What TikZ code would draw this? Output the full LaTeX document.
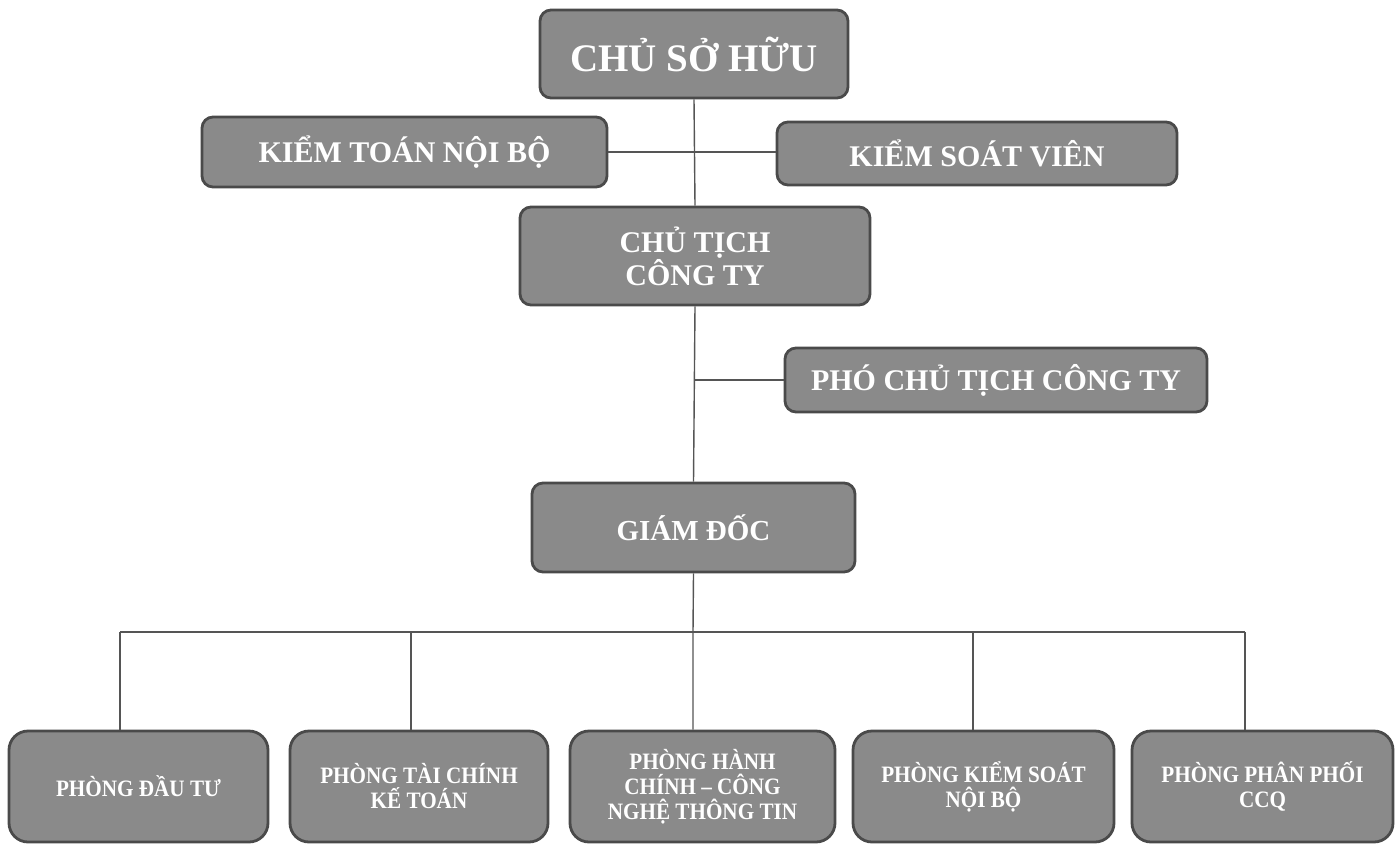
\documentclass[tikz,border=0pt]{standalone}
\usepackage{fontspec}
\setmainfont{Liberation Serif}
\newfontfamily\narrowserif[FakeStretch=0.9,Ligatures=TeX]{Liberation Serif}
\usepackage{tikz}
\usetikzlibrary{positioning,calc}
\definecolor{boxfill}{HTML}{8A8A8A}
\definecolor{boxedge}{HTML}{4A4A4A}
\definecolor{linkgray}{HTML}{555555}

\begin{document}
\begin{tikzpicture}[%
  x=1pt,y=-1pt,
  unit/.style={rectangle,draw=boxedge,fill=boxfill,line width=2.8pt,
    rounded corners=11pt,text=white,align=center,inner sep=0pt},
  head/.style={unit,font=\fontsize{39}{44}\selectfont\bfseries},
  board/.style={unit,font=\fontsize{30}{27}\selectfont\bfseries},
  dept/.style={unit,rounded corners=19pt,minimum height=111pt,
    font=\narrowserif\fontsize{23.5}{25}\selectfont\bfseries},
  link/.style={draw=linkgray,line width=1.4pt}]
    \useasboundingbox (0,0) rectangle (1400,844);
    % Top levels
    \node[head,minimum width=308pt,minimum height=88pt] (owner) at (694,54) {CHỦ SỞ HỮU};
    \node[board,minimum width=405pt,minimum height=70pt] (audit) at (404.5,152) {KIỂM TOÁN NỘI BỘ};
    \node[board,minimum width=400pt,minimum height=63pt] (ctrl) at (977,153.5) {KIỂM SOÁT VIÊN};
    \node[board,minimum width=350pt,minimum height=98pt] (chair) at (695,256) {CHỦ TỊCH\\CÔNG TY};
    \node[board,minimum width=422pt,minimum height=64pt] (vice) at (996,380) {PHÓ CHỦ TỊCH CÔNG TY};
    \node[board,font=\fontsize{29}{27}\selectfont\bfseries,
      minimum width=323pt,minimum height=89pt] (dir) at (693.5,527.5) {GIÁM ĐỐC};
    % Departments
    \node[dept,minimum width=259pt] (d1) at (138.5,786.5) {PHÒNG ĐẦU TƯ};
    \node[dept,minimum width=258pt] (d2) at (419,786.5) {PHÒNG TÀI CHÍNH\\KẾ TOÁN};
    \node[dept,minimum width=265pt] (d3) at (702.5,786.5) {PHÒNG HÀNH\\CHÍNH – CÔNG\\NGHỆ THÔNG TIN};
    \node[dept,minimum width=261pt] (d4) at (983.5,786.5) {PHÒNG KIỂM SOÁT\\NỘI BỘ};
    \node[dept,minimum width=261pt] (d5) at (1262.5,786.5) {PHÒNG PHÂN PHỐI\\CCQ};
    % Bus coordinates
    \coordinate (bus) at (693,632);
    \coordinate (b1) at (120,632);
    \coordinate (b2) at (411,632);
    \coordinate (b4) at (973,632);
    \coordinate (b5) at (1245,632);
    % Connectors
    \draw[link] (owner.south) -- (chair.north);
    \draw[link] (audit.east) -- (audit.east -| ctrl.west);
    \draw[link] (chair.south) -- (dir.north);
    \draw[link] (chair.south |- vice.west) -- (vice.west);
    \draw[link] (dir.south) -- (bus) -- (bus |- d3.north);
    \draw[link] (b1) -- (b5);
    \foreach \b/\d in {b1/d1,b2/d2,b4/d4,b5/d5}
      \draw[link] (\b) -- (\b |- \d.north);
\end{tikzpicture}
\end{document}
